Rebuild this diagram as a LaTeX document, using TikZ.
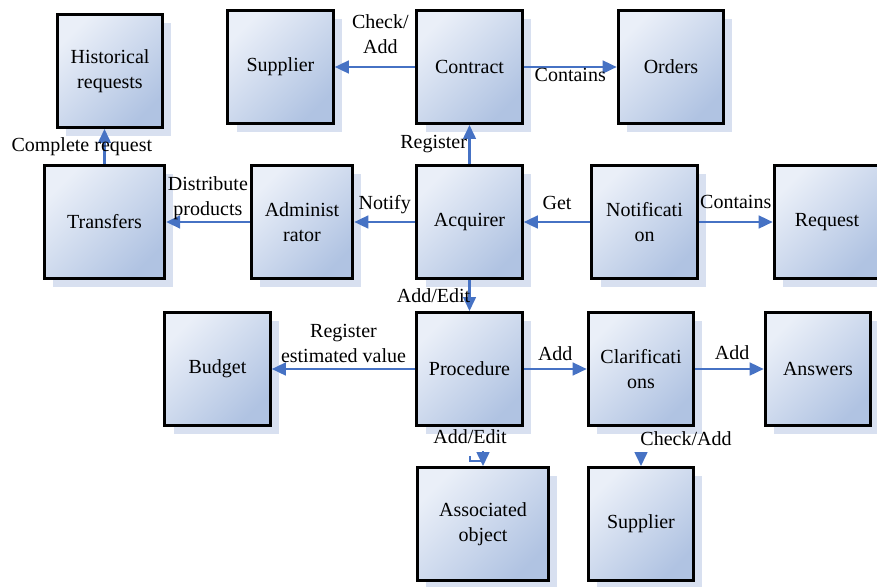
\documentclass[tikz,border=0pt]{standalone}
\usepackage{fontspec}
\setmainfont{Liberation Serif}
\usetikzlibrary{arrows.meta,shadows}
\definecolor{arrblue}{RGB}{70,114,196}
\definecolor{boxlight}{RGB}{234,239,248}
\definecolor{boxdark}{RGB}{176,195,226}
\definecolor{shadowblue}{RGB}{216,224,240}
\tikzset{
  unit/.style={draw=black, line width=2.4pt, align=center, inner sep=2pt,
    minimum width=79pt, minimum height=84.5pt,
    top color=boxlight, bottom color=boxdark, shading angle=45,
    general shadow={draw=none, fill=shadowblue, shadow xshift=6.5pt, shadow yshift=-6.5pt}},
  flow/.style={arrblue, line width=1.8pt, -{Triangle[length=10.5pt,width=9.5pt]}},
  lab/.style={align=center, inner sep=1pt, text=black}
}
\begin{document}
\begin{tikzpicture}[x=0.75pt, y=-0.75pt, font=\fontsize{15}{18.5}\selectfont]
\useasboundingbox (0,0) rectangle (877,586);
% top row
\node [unit] (hist) at (110,71) {Historical\\requests};
\node [unit] (supA) at (280.5,67) {Supplier};
\node [unit] (contract) at (469.5,67) {Contract};
\node [unit] (orders) at (671,67) {Orders};
% middle row
\node [unit, minimum width=90pt] (trans) at (104.5,222) {Transfers};
\node [unit, minimum width=76pt] (admin) at (302,222) {Administ\\rator};
\node [unit] (acq) at (469.5,222) {Acquirer};
\node [unit] (notif) at (644.5,222) {Notificati\\on};
\node [unit] (request) at (827,222) {Request};
% third row
\node [unit] (budget) at (217.5,369) {Budget};
\node [unit] (proc) at (469.5,369) {Procedure};
\node [unit] (clar) at (641,369) {Clarificati\\ons};
\node [unit] (answers) at (818,369) {Answers};
% bottom row
\node [unit, minimum width=98pt] (assoc) at (483,524) {Associated\\object};
\node [unit] (supB) at (641,524) {Supplier};

\draw [flow] (contract.west) -- node [above, lab, yshift=8pt, xshift=4pt] {Check/\\Add} (supA.east);
\draw [flow] (contract.east) -- node [below, lab, inner sep=0pt] {Contains} (orders.west);
\draw [flow] (acq.north) -- node [left, lab] {Register} (contract.south);
\draw [flow] (trans.north) -- node [lab, xshift=-17pt] {Complete request} (trans.north |- hist.south);
\draw [flow] (admin.west) -- node [above, lab] {Distribute\\products} (trans.east);
\draw [flow] (acq.west) -- node [above, lab, yshift=4pt] {Notify} (admin.east);
\draw [flow] (notif.west) -- node [above, lab, yshift=7pt] {Get} (acq.east);
\draw [flow] (notif.east) -- node [above, lab, yshift=8pt] {Contains} (request.west);
\draw [flow] (acq.south) -- node [lab, xshift=-27pt] {Add/Edit} (proc.north);
\draw [flow] (proc.west) -- node [above, lab, yshift=3pt] {Register\\estimated value} (budget.east);
\draw [flow] (proc.east) -- node [above, lab, yshift=4pt] {Add} (clar.west);
\draw [flow] (clar.east) -- node [above, lab, yshift=5pt, xshift=2pt] {Add} (answers.west);

% stubs into the bottom row
\node [lab] (lbAE) at (470,437) {Add/Edit};
\node [lab] (lbCA) at (686,439) {Check/Add};
\coordinate (procOut) at (470,456);
\coordinate (clarOut) at (641,452);
\draw [arrblue, line width=1.8pt] (procOut) |- ([yshift=4pt]assoc.north);
\draw [flow] ([yshift=11pt]assoc.north) -- (assoc.north);
\draw [flow] (clarOut) -- (supB.north);
\end{tikzpicture}
\end{document}
